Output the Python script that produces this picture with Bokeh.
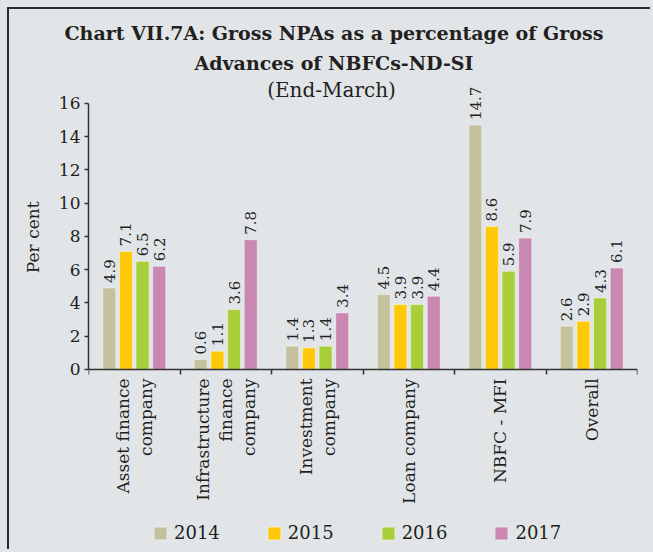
import math
from bokeh.plotting import figure
from bokeh.models import (ColumnDataSource, Range1d, FixedTicker, Legend, LegendItem,
                          Label, Title, GlobalInlineStyleSheet)
from bokeh.transform import dodge
from bokeh.core.properties import value
from bokeh.embed import file_html
from bokeh.resources import INLINE

# ---- data ----
categories = ["Asset finance\ncompany", "Infrastructure\nfinance\ncompany",
              "Investment\ncompany", "Loan company", "NBFC - MFI", "Overall"]
years = ["2014", "2015", "2016", "2017"]
v2014 = [4.9, 0.6, 1.4, 4.5, 14.7, 2.6]
v2015 = [7.1, 1.1, 1.3, 3.9, 8.6, 2.9]
v2016 = [6.5, 3.6, 1.4, 3.9, 5.9, 4.3]
v2017 = [6.2, 7.8, 3.4, 4.4, 7.9, 6.1]
series = [v2014, v2015, v2016, v2017]
colors = ["#c4c19c", "#ffc90a", "#a8ce3a", "#c987b1"]
y_ticks = [0, 2, 4, 6, 8, 10, 12, 14, 16]

BG = "#e1e5e8"
TXT = "#231f20"
AX = "#333333"
FONT = "DejaVu Serif"

centers = [i + 0.5 for i in range(len(categories))]
bounds = [i for i in range(len(categories) + 1)]

data = {"x": centers}
for yr, vals in zip(years, series):
    data[yr] = vals
    data["lbl" + yr] = ["%.1f" % v for v in vals]
src = ColumnDataSource(data)
cat_src = ColumnDataSource({"x": centers, "y": [0] * len(categories), "name": categories})

p = figure(width=643, height=542, output_backend="svg", toolbar_location=None,
           x_range=Range1d(0, len(categories)), y_range=Range1d(-10.47, 17.5),
           min_border_left=79, min_border_right=15, min_border_top=69,
           min_border_bottom=8)
p.background_fill_color = BG
p.border_fill_color = BG
p.outline_line_color = None
p.xgrid.visible = False
p.ygrid.visible = False
p.styles = {"margin-left": "7px", "margin-top": "7px",
            "border-top": "2px solid #2b2b2b", "border-left": "2px solid #2b2b2b"}
p.stylesheets = [GlobalInlineStyleSheet(css="body { background-color: %s; }" % BG)]

pitch = 0.182
bw = 0.142
items = []
for j, yr in enumerate(years):
    off = (j - 1.5) * pitch
    r = p.vbar(x=dodge("x", off, range=p.x_range), top=yr, width=bw, bottom=0,
               source=src, fill_color=colors[j], line_color="white",
               line_alpha=0.45, line_width=1)
    p.text(x=dodge("x", off, range=p.x_range), y=yr, text="lbl" + yr, source=src,
           angle=math.pi / 2, text_align="left", text_baseline="middle",
           y_offset=-5, text_font=value(FONT), text_font_size="15px",
           text_color=TXT)
    items.append(LegendItem(label=yr, renderers=[r]))

# category names below the zero line
p.text(x="x", y="y", text="name", source=cat_src, angle=math.pi / 2,
       text_align="right", text_baseline="middle", y_offset=9,
       text_font=value(FONT), text_font_size="17px", text_color=TXT,
       text_line_height=1.14)

# y axis
ya = p.yaxis[0]
ya.ticker = FixedTicker(ticks=y_ticks)
ya.bounds = (0, 16)
ya.major_label_text_font = FONT
ya.major_label_text_font_size = "17px"
ya.major_label_text_color = TXT
ya.major_label_standoff = 4
ya.major_tick_in = 0
ya.major_tick_out = 4
ya.minor_tick_line_color = None
ya.axis_line_color = AX
ya.axis_line_width = 1.5
ya.major_tick_line_color = AX
ya.major_tick_line_width = 1.5

# y axis title, centred on the 0-16 span
p.add_layout(Title(text="Per cent", align="right", offset=123, vertical_align="middle",
                   text_font=FONT, text_font_size="17px", text_font_style="normal",
                   text_color=TXT, standoff=23), "left")

# x axis at zero: ticks at category boundaries
xa = p.xaxis[0]
xa.fixed_location = 0
xa.ticker = FixedTicker(ticks=centers, minor_ticks=bounds)
xa.major_label_overrides = {c: "" for c in centers}
xa.major_label_text_font_size = "1px"
xa.major_label_standoff = 0
xa.major_tick_line_color = None
xa.major_tick_in = 0
xa.major_tick_out = 0
xa.minor_tick_in = 0
xa.minor_tick_out = 5
xa.minor_tick_line_color = AX
xa.minor_tick_line_width = 1.5
xa.axis_line_color = AX
xa.axis_line_width = 1.5

legend = Legend(items=items, orientation="horizontal", location=(64, 0),
                glyph_width=16, glyph_height=16, label_standoff=6, spacing=46,
                padding=0, margin=0, border_line_color=None,
                background_fill_alpha=0, label_text_font=FONT,
                label_text_font_size="18px", label_text_color=TXT)
p.add_layout(legend)

# titles
p.add_layout(Title(text="Advances of NBFCs-ND-SI", align="left", offset=106,
                   text_font=FONT, text_font_size="19px", text_font_style="bold",
                   text_color=TXT, standoff=10), "above")
p.add_layout(Title(text="Chart VII.7A: Gross NPAs as a percentage of Gross",
                   align="left", offset=-24, text_font=FONT, text_font_size="19px",
                   text_font_style="bold", text_color=TXT, standoff=2), "above")
p.add_layout(Label(x=243, y=280 + 174, x_units="screen", y_units="screen",
                   text="(End-March)", text_align="center", text_baseline="middle",
                   text_font=FONT, text_font_size="20px", text_color=TXT))

open("out.html", "w").write(file_html(p, INLINE))
